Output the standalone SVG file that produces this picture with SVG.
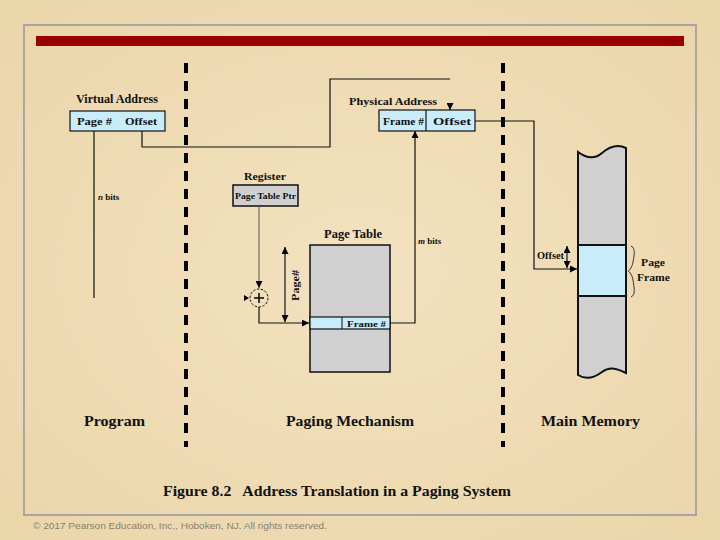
<svg xmlns="http://www.w3.org/2000/svg" width="720" height="540" viewBox="0 0 720 540">
<defs>
<radialGradient id="bg" cx="50%" cy="50%" r="75%">
<stop offset="0" stop-color="#f3e2bf"/>
<stop offset="1" stop-color="#ead5a8"/>
</radialGradient>
<marker id="ah" viewBox="0 0 10 10" refX="10" refY="5" markerWidth="7" markerHeight="7" markerUnits="userSpaceOnUse" orient="auto-start-reverse">
<path d="M0,0 L10,5 L0,10 z" fill="#000"/>
</marker>
<style>
.t{font-family:"Liberation Serif","Times New Roman",serif;font-weight:bold;fill:#111}
.ln{fill:none;stroke:#111;stroke-width:1.2}
.gl{fill:none;stroke:#555;stroke-width:1}
.blue{fill:#c8ecfa;stroke:#111;stroke-width:1.2}
.gray{fill:#d0d0d0;stroke:#111;stroke-width:1.5}
.dash{fill:none;stroke:#000;stroke-width:4;stroke-dasharray:10 8}
</style>
</defs>
<rect x="0" y="0" width="720" height="540" fill="url(#bg)"/>
<rect x="24" y="25" width="672" height="490" fill="none" stroke="#aaa5a5" stroke-width="2"/>
<rect x="36" y="36" width="648" height="10" fill="#990000"/>

<g id="dividers">
<line class="dash" x1="186" y1="63" x2="186" y2="447"/>
<line class="dash" x1="503" y1="63" x2="503" y2="447"/>
</g>

<g id="virtual-address">
<text class="t" x="76" y="103" font-size="11.5" textLength="82" lengthAdjust="spacingAndGlyphs">Virtual Address</text>
<rect class="blue" x="70" y="111" width="95" height="20"/>
<text class="t" x="77" y="125" font-size="11" textLength="35" lengthAdjust="spacingAndGlyphs">Page #</text>
<text class="t" x="125" y="125" font-size="11" textLength="32" lengthAdjust="spacingAndGlyphs">Offset</text>
</g>

<g id="physical-address">
<text class="t" x="349" y="105" font-size="11" textLength="88" lengthAdjust="spacingAndGlyphs">Physical Address</text>
<rect class="blue" x="379" y="110" width="96" height="21"/>
<line x1="426" y1="110" x2="426" y2="131" stroke="#111" stroke-width="1.2"/>
<text class="t" x="383" y="124.5" font-size="11" textLength="41" lengthAdjust="spacingAndGlyphs">Frame #</text>
<text class="t" x="433" y="124.5" font-size="11" textLength="38" lengthAdjust="spacingAndGlyphs">Offset</text>
</g>

<g id="register">
<text class="t" x="244" y="180" font-size="10.5" textLength="42" lengthAdjust="spacingAndGlyphs">Register</text>
<rect class="gray" x="233" y="185" width="65" height="21" stroke-width="1.2"/>
<text class="t" x="235" y="199" font-size="8.5" font-weight="normal" textLength="61" lengthAdjust="spacingAndGlyphs">Page Table Ptr</text>
</g>

<g id="adder">
<circle cx="259" cy="298" r="9" fill="none" stroke="#111" stroke-width="1" stroke-dasharray="2.5 1.5"/>
<line x1="254" y1="298" x2="264" y2="298" stroke="#111" stroke-width="1.6"/>
<line x1="259" y1="293" x2="259" y2="303" stroke="#111" stroke-width="1.6"/>
<path d="M244,295 L249,298 L244,301 z" fill="#000"/>
</g>

<g id="page-table">
<text class="t" x="324" y="238" font-size="11.5" textLength="58" lengthAdjust="spacingAndGlyphs">Page Table</text>
<rect class="gray" x="310" y="245" width="80" height="127"/>
<rect class="blue" x="310" y="317" width="80" height="12"/>
<line x1="342" y1="317" x2="342" y2="329" stroke="#111" stroke-width="1"/>
<text class="t" x="347" y="326.5" font-size="9" font-weight="normal" textLength="39" lengthAdjust="spacingAndGlyphs">Frame #</text>
</g>

<g id="main-memory">
<path d="M578,152 C586,158 594,160 602,153 C610,146 618,144 626,148 L626,373 C618,369 610,366 602,372 C594,378 586,380 578,375 Z" fill="#d0d0d0" stroke="#111" stroke-width="2"/>
<rect x="578" y="245" width="48" height="51" fill="#c8ecfa" stroke="#111" stroke-width="2"/>
<path d="M631,246 C636,248 634,256 633,262 C632,267 630,270 628,271 C630,272 632,275 633,280 C634,287 636,295 631,297" fill="none" stroke="#333" stroke-width="1"/>
<text class="t" x="641" y="266" font-size="11" textLength="24" lengthAdjust="spacingAndGlyphs">Page</text>
<text class="t" x="637" y="281" font-size="11" textLength="33" lengthAdjust="spacingAndGlyphs">Frame</text>
<text class="t" x="537" y="259" font-size="10" textLength="27" lengthAdjust="spacingAndGlyphs">Offset</text>
</g>

<g id="connectors">
<line class="ln" x1="94" y1="131" x2="94" y2="298"/>
<text class="t" x="98" y="200" font-size="9" font-weight="normal"><tspan font-style="italic">n</tspan> bits</text>
<polyline class="ln" points="142,131 142,147 330,147 330,79 450,79"/>
<line x1="450" y1="103" x2="450" y2="110" stroke="#111" stroke-width="1" marker-end="url(#ah)"/>
<polyline class="ln" points="475,121 534,121 534,269 577,269" marker-end="url(#ah)"/>
<line class="ln" x1="567" y1="246" x2="567" y2="268" marker-start="url(#ah)" marker-end="url(#ah)"/>
<polyline class="ln" points="390,323 415,323 415,131" marker-end="url(#ah)"/>
<text class="t" x="418" y="244" font-size="9" font-weight="normal"><tspan font-style="italic">m</tspan> bits</text>
<line class="gl" x1="259" y1="206" x2="259" y2="288" marker-end="url(#ah)"/>
<polyline class="ln" points="259,307 259,323 309,323" marker-end="url(#ah)"/>
<line class="ln" x1="285" y1="247" x2="285" y2="322" marker-start="url(#ah)" marker-end="url(#ah)"/>
<text class="t" x="0" y="0" font-size="11" transform="translate(299,301) rotate(-90)" textLength="31" lengthAdjust="spacingAndGlyphs">Page#</text>
</g>

<g id="labels">
<text class="t" x="84" y="426" font-size="15.5" textLength="61" lengthAdjust="spacingAndGlyphs">Program</text>
<text class="t" x="286" y="426" font-size="15.5" textLength="128" lengthAdjust="spacingAndGlyphs">Paging Mechanism</text>
<text class="t" x="541" y="426" font-size="15.5" textLength="99" lengthAdjust="spacingAndGlyphs">Main Memory</text>
<text class="t" x="163" y="496" font-size="14.5" textLength="348" lengthAdjust="spacingAndGlyphs" xml:space="preserve">Figure 8.2   Address Translation in a Paging System</text>
<text x="33" y="529" font-family="'Liberation Sans',Arial,sans-serif" font-size="9" fill="#8a8070" textLength="294" lengthAdjust="spacingAndGlyphs">© 2017 Pearson Education, Inc., Hoboken, NJ. All rights reserved.</text>
</g>
</svg>
